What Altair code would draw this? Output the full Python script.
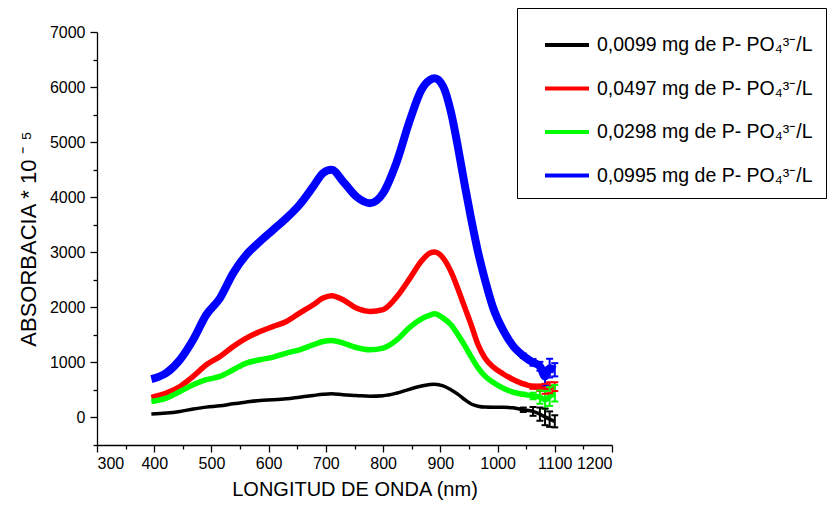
import altair as alt
import pandas as pd

# ---- data ----
wavelength = [395, 421, 445, 468, 491, 515, 538, 561, 585, 608, 631, 654, 678, 695, 710,
              730, 753, 777, 800, 823, 847, 867, 882, 890, 905, 919, 931, 943, 954, 966,
              978, 992, 1010, 1027, 1045, 1062, 1074, 1083, 1091, 1100]

black = [61, 79, 110, 152, 188, 212, 248, 279, 309, 321, 339, 369, 400, 420, 430,
         412, 400, 385, 394, 440, 515, 570, 600, 605, 575, 500, 420, 321, 245, 205,
         188, 185, 185, 175, 140, 110, 60, 10, -30, -70]
red = [363, 442, 563, 745, 957, 1108, 1290, 1441, 1562, 1653, 1743, 1895, 2046, 2168, 2210,
       2137, 1986, 1925, 1960, 2180, 2530, 2840, 2985, 3003, 2894, 2640, 2330, 1990, 1680, 1320,
       1080, 920, 790, 690, 610, 560, 540, 520, 540, 560]
green = [291, 351, 472, 594, 685, 745, 866, 987, 1048, 1096, 1169, 1229, 1320, 1380, 1399,
         1350, 1270, 1229, 1260, 1400, 1640, 1790, 1860, 1883, 1804, 1680, 1500, 1300, 1100, 900,
         750, 640, 530, 460, 420, 390, 370, 320, 380, 440]
blue = [697, 806, 1048, 1411, 1865, 2168, 2622, 2955, 3197, 3408, 3620, 3863, 4196, 4438, 4498,
        4286, 4013, 3892, 4074, 4619, 5406, 5951, 6132, 6162, 6011, 5527, 4900, 4200, 3600, 3000,
        2500, 2000, 1580, 1300, 1120, 1000, 930, 745, 896, 866]

tail_wavelength = [1045, 1062, 1074, 1083, 1091, 1100]
black_err = [40, 80, 120, 150, 140, 110]
red_err = [20, 40, 60, 90, 100, 80]
green_err = [30, 60, 120, 160, 170, 150]
blue_err = [40, 60, 80, 160, 170, 120]

series = ["0,0099 mg de P- PO₄³⁻/L", "0,0497 mg de P- PO₄³⁻/L",
          "0,0298 mg de P- PO₄³⁻/L", "0,0995 mg de P- PO₄³⁻/L"]
colors = ["#000000", "#ff0000", "#00ff00", "#0000ff"]
widths = [3.5, 5.5, 5.5, 8]

x_major = [300, 400, 500, 600, 700, 800, 900, 1000, 1100, 1200]
x_minor = [350, 450, 550, 650, 750, 850, 950, 1050, 1150]
y_major = [0, 1000, 2000, 3000, 4000, 5000, 6000, 7000]
y_minor = [-500, 500, 1500, 2500, 3500, 4500, 5500, 6500]

# ---- tables ----
rows = []
err_rows = []
for name, vals, errs, w in zip(series, [black, red, green, blue],
                               [black_err, red_err, green_err, blue_err], widths):
    for x, y in zip(wavelength, vals):
        rows.append({"wl": x, "abs": y, "series": name, "w": w})
    for tw, e in zip(tail_wavelength, errs):
        y = vals[wavelength.index(tw)]
        err_rows.append({"wl": tw, "lo": y - e, "hi": y + e, "series": name})
df = pd.DataFrame(rows)
edf = pd.DataFrame(err_rows)

FONT = "Liberation Sans"
xscale = alt.Scale(domain=[300, 1200], nice=False, zero=False)
yscale = alt.Scale(domain=[-500, 7000], nice=False, zero=False)

color = alt.Color(
    "series:N",
    scale=alt.Scale(domain=series, range=colors),
    legend=alt.Legend(
        title=None, orient="none", legendX=420, legendY=-24,
        strokeColor="black", fillColor="white", padding=13,
        symbolType="stroke", symbolSize=1936, symbolStrokeWidth=4,
        labelFontSize=19.5, labelFont=FONT, labelLimit=0, labelColor="black",
        rowPadding=9.5, symbolOffset=13, labelOffset=6,
    ),
)

minor = alt.Chart(df).mark_point(opacity=0).encode(
    x=alt.X("wl:Q", scale=xscale,
            axis=alt.Axis(values=x_minor, labels=False, domain=False, tickSize=4,
                          title=None, orient="bottom", grid=False)),
    y=alt.Y("abs:Q", scale=yscale,
            axis=alt.Axis(values=y_minor, labels=False, domain=False, tickSize=4,
                          title=None, orient="left", grid=False)),
)

lines = alt.Chart(df).mark_line(interpolate="monotone").encode(
    x=alt.X("wl:Q", scale=xscale,
            axis=alt.Axis(values=x_major, title="LONGITUD DE ONDA (nm)", orient="bottom",
                          tickSize=7, labelPadding=3, titlePadding=8, format="d",
                          titleFontSize=20)),
    y=alt.Y("abs:Q", scale=yscale,
            axis=alt.Axis(values=y_major, title="ABSORBACIA * 10 ⁻ ⁵", orient="left",
                          tickSize=7, labelPadding=5, titlePadding=9, format="d",
                          titleFontSize=22)),
    color=color,
    strokeWidth=alt.StrokeWidth("w:Q", scale=None),
)

bars = alt.Chart(edf).mark_rule(strokeWidth=2).encode(
    x=alt.X("wl:Q", scale=xscale, axis=None),
    y=alt.Y("lo:Q", scale=yscale, axis=None),
    y2="hi:Q",
    color=alt.Color("series:N", scale=alt.Scale(domain=series, range=colors), legend=None),
)
caps_lo = alt.Chart(edf).mark_point(shape="stroke", size=49, strokeWidth=2, filled=False, opacity=1).encode(
    x=alt.X("wl:Q", scale=xscale, axis=None),
    y=alt.Y("lo:Q", scale=yscale, axis=None),
    color=alt.Color("series:N", scale=alt.Scale(domain=series, range=colors), legend=None),
)
caps_hi = alt.Chart(edf).mark_point(shape="stroke", size=49, strokeWidth=2, filled=False, opacity=1).encode(
    x=alt.X("wl:Q", scale=xscale, axis=None),
    y=alt.Y("hi:Q", scale=yscale, axis=None),
    color=alt.Color("series:N", scale=alt.Scale(domain=series, range=colors), legend=None),
)

chart = (
    alt.layer(minor, lines, bars, caps_lo, caps_hi)
    .resolve_axis(x="independent", y="independent")
    .properties(
        width=515, height=413,
        autosize=alt.AutoSizeParams(type="none"),
        padding={"left": 89, "top": 24, "right": 215, "bottom": 55},
        background="white",
    )
    .configure_view(stroke=None)
    .configure_axis(
        domainColor="black", tickColor="black", labelColor="black", titleColor="black",
        labelFont=FONT, titleFont=FONT, labelFontSize=16,
        titleFontWeight="normal", grid=False, domainWidth=1.3, tickWidth=1.3,
    )
)

chart.save("out.html", embed_options={"renderer": "svg", "actions": False})
